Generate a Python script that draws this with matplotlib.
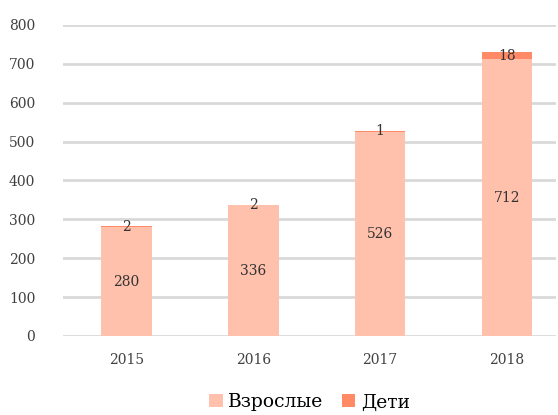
import matplotlib
matplotlib.use("Agg")
import matplotlib.pyplot as plt
import numpy as np

years = ["2015", "2016", "2017", "2018"]
adults = [280, 336, 526, 712]
children = [2, 2, 1, 18]
yticks = [0, 100, 200, 300, 400, 500, 600, 700, 800]

c_adult = "#FFC0AC"
c_child = "#FF8A65"

plt.rcParams['font.family'] = ['DejaVu Serif']
fig = plt.figure(figsize=(5.58, 4.15), dpi=100)
ax = fig.add_axes([0.113, 0.1904, 0.884, 0.7494])

x = np.arange(len(years))
w = 0.4
b1 = ax.bar(x, adults, w, color=c_adult, label="Взрослые", zorder=2)
b2 = ax.bar(x, children, w, bottom=adults, color=c_child, label="Дети", zorder=2)

for xi, a, c in zip(x, adults, children):
    ax.text(xi, a / 2, str(a), ha="center", va="center", fontsize=10, color="#333333", zorder=3)
    ax.text(xi, a + c / 2, str(c), ha="center", va="center", fontsize=10, color="#333333", zorder=3)

ax.set_ylim(0, 800)
ax.set_xlim(-0.5, 3.39)
ax.set_yticks(yticks)
ax.set_yticklabels([str(t) for t in yticks], fontsize=10, color="#404040")
ax.set_xticks(x)
ax.set_xticklabels(years, fontsize=10, color="#404040")
ax.tick_params(axis="both", length=0)
ax.tick_params(axis="y", pad=20)
ax.tick_params(axis="x", pad=12)
ax.yaxis.grid(True, color="#d9d9d9", linewidth=2, zorder=0)
ax.set_axisbelow(True)
for s in ax.spines.values():
    s.set_visible(False)

ax.legend(handles=[b1, b2], labels=["Взрослые", "Дети"], loc="lower center",
          bbox_to_anchor=(0.5, -0.285), ncol=2, frameon=False, fontsize=13.5,
          handlelength=0.7, handleheight=0.7, handletextpad=0.3, columnspacing=1.0,
          borderpad=0.2)

fig.savefig("out.png", dpi=100)
